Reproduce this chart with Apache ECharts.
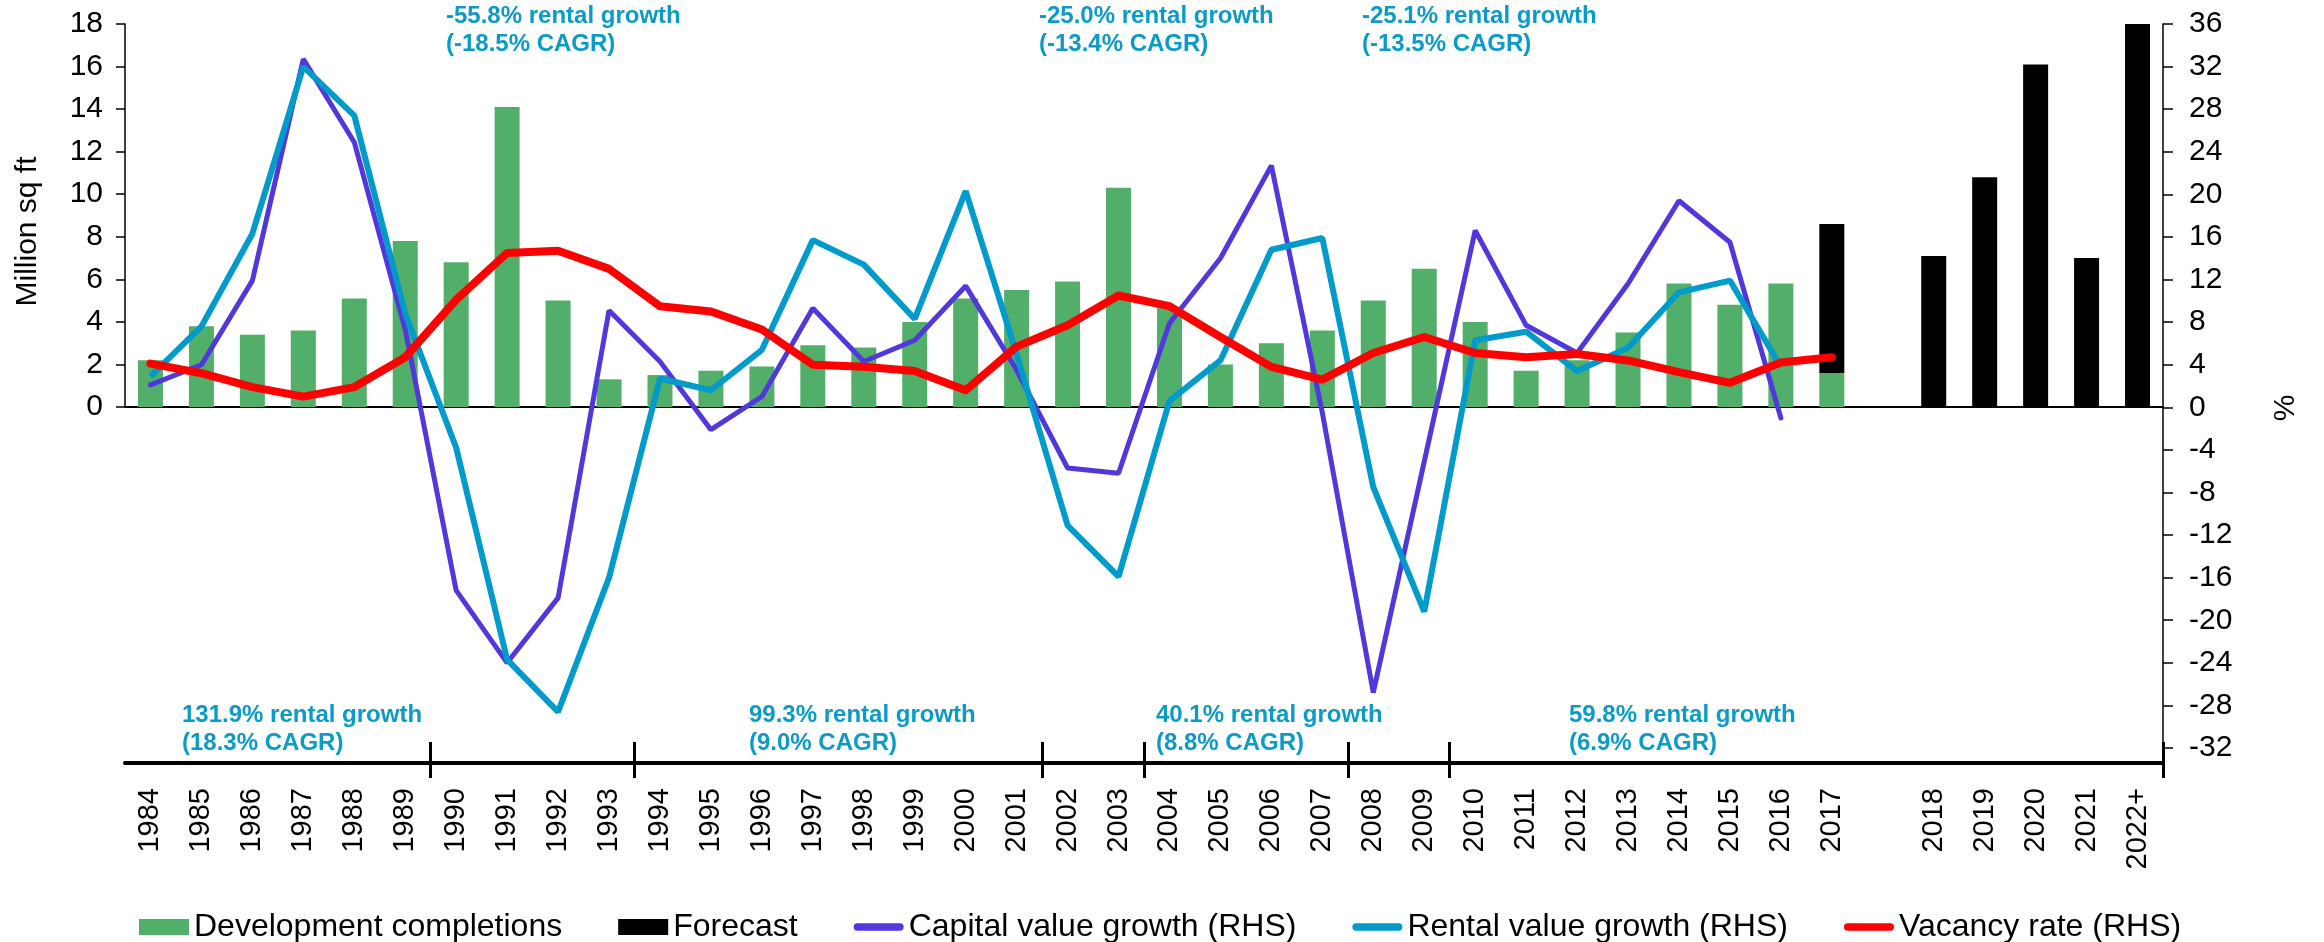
<!DOCTYPE html>
<html>
<head>
<meta charset="utf-8">
<script src="https://cdn.jsdelivr.net/npm/echarts@6/dist/echarts.min.js"></script>
<style>
  html, body { margin: 0; padding: 0; background: #fff; }
  #chartId { width: 2324px; height: 942px; }
</style>
</head>
<body>
<div id="chartId"></div>
<script>
// years on the x axis, one empty slot before the forecast years
const years = ['1984', '1985', '1986', '1987', '1988', '1989', '1990', '1991', '1992', '1993',
  '1994', '1995', '1996', '1997', '1998', '1999', '2000', '2001', '2002', '2003',
  '2004', '2005', '2006', '2007', '2008', '2009', '2010', '2011', '2012', '2013',
  '2014', '2015', '2016', '2017', '', '2018', '2019', '2020', '2021', '2022+']

// million sq ft
const completions = [2.2, 3.8, 3.4, 3.6, 5.1, 7.8, 6.8, 14.1, 5.0, 1.3,
  1.5, 1.7, 1.9, 2.9, 2.8, 4.0, 5.1, 5.5, 5.9, 10.3,
  4.7, 2.0, 3.0, 3.6, 5.0, 6.5, 4.0, 1.7, 2.2, 3.5,
  5.8, 4.8, 5.8, 1.6, '-', '-', '-', '-', '-', '-']
const forecast = ['-', '-', '-', '-', '-', '-', '-', '-', '-', '-',
  '-', '-', '-', '-', '-', '-', '-', '-', '-', '-',
  '-', '-', '-', '-', '-', '-', '-', '-', '-', '-',
  '-', '-', '-', 7.0, '-', 7.1, 10.8, 16.1, 7.0, 18.0]

// % (RHS)
const capitalGrowth = [2.1, 4.0, 11.9, 32.7, 24.9, 7.3, -17.2, -24.0, -17.9, 9.1,
  4.3, -2.1, 1.0, 9.3, 4.3, 6.3, 11.4, 3.5, -5.7, -6.2,
  7.9, 14.0, 22.7, -0.5, -26.8, -5.1, 16.6, 7.7, 5.1, 11.6,
  19.4, 15.5, -1.0]
const rentalGrowth = [2.9, 7.6, 16.3, 32.0, 27.4, 8.8, -3.8, -23.7, -28.6, -16.0,
  2.7, 1.6, 5.4, 15.7, 13.4, 8.3, 20.3, 5.0, -11.1, -15.9,
  0.6, 4.4, 14.8, 15.9, -7.5, -19.2, 6.3, 7.1, 3.4, 5.6,
  10.8, 11.9, 3.8]
const vacancyRate = [4.1, 3.2, 1.9, 1.0, 1.9, 4.7, 10.1, 14.5, 14.7, 13.0,
  9.5, 9.0, 7.3, 4.0, 3.8, 3.4, 1.6, 5.7, 7.7, 10.5,
  9.5, 6.6, 3.8, 2.6, 5.1, 6.6, 5.1, 4.7, 5.0, 4.4,
  3.3, 2.3, 4.2, 4.7]

// first year of each rental cycle, marked on the bottom line
const periodStarts = ['1990', '1994', '2002', '2004', '2008', '2010']

const topNotes = [
  { x: 446, text: '-55.8% rental growth\n(-18.5% CAGR)' },
  { x: 1039, text: '-25.0% rental growth\n(-13.4% CAGR)' },
  { x: 1362, text: '-25.1% rental growth\n(-13.5% CAGR)' }
]
const bottomNotes = [
  { x: 182, text: '131.9% rental growth\n(18.3% CAGR)' },
  { x: 749, text: '99.3% rental growth\n(9.0% CAGR)' },
  { x: 1156, text: '40.1% rental growth\n(8.8% CAGR)' },
  { x: 1569, text: '59.8% rental growth\n(6.9% CAGR)' }
]

const FONT = 'Liberation Sans, Arial, sans-serif'
const GREEN = '#52AF69'
const PURPLE = '#5038DC'
const CYAN = '#009BCB'
const RED = '#FF0000'
const NOTE_COLOR = '#0A9BC9'

const lineIcon = 'path://M4,0 L51,0 A4,4 0 0 1 51,8 L4,8 A4,4 0 0 1 4,0 Z'

const chart = echarts.init(document.getElementById('chartId'))

const noteText = (n, top) => ({
  type: 'text',
  x: n.x,
  y: top,
  style: {
    text: n.text,
    font: 'bold 24px ' + FONT,
    fill: NOTE_COLOR,
    lineHeight: 28
  }
})

const periodTick = (idx) => periodStarts.indexOf(years[idx]) >= 0

chart.setOption({
  animation: false,
  textStyle: { fontFamily: FONT },
  grid: [
    { left: 125, right: 161, top: 24, bottom: 194 },
    { left: 125, right: 161, top: 24, bottom: 535 }
  ],
  xAxis: [
    {
      type: 'category',
      gridIndex: 0,
      data: years,
      axisLine: { show: false },
      axisTick: { show: false },
      axisLabel: { rotate: 90, margin: 40, fontSize: 29, color: '#000', interval: 0 }
    },
    {
      type: 'category',
      gridIndex: 1,
      data: years,
      axisLine: { lineStyle: { color: '#000', width: 2 } },
      axisTick: { show: false },
      axisLabel: { show: false }
    },
    {
      type: 'category',
      gridIndex: 0,
      data: years,
      position: 'bottom',
      offset: 15,
      axisLine: { lineStyle: { color: '#000', width: 4 } },
      axisTick: { show: true, inside: true, length: 21, interval: periodTick, lineStyle: { color: '#000', width: 3 } },
      axisLabel: { show: false }
    },
    {
      type: 'category',
      gridIndex: 0,
      data: years,
      position: 'bottom',
      offset: 15,
      axisLine: { show: false },
      axisTick: { show: true, length: 15, interval: periodTick, lineStyle: { color: '#000', width: 3 } },
      axisLabel: { show: false }
    }
  ],
  yAxis: [
    {
      type: 'value',
      gridIndex: 0,
      position: 'right',
      min: -32,
      max: 36,
      interval: 4,
      name: '%',
      nameLocation: 'middle',
      nameGap: 108,
      nameTextStyle: { fontSize: 30, color: '#000', padding: [0, 44, 0, 0] },
      splitLine: { show: false },
      axisLine: { show: true, lineStyle: { color: '#000', width: 1.5 } },
      axisTick: { show: true, length: 10, lineStyle: { color: '#000', width: 1.5 } },
      axisLabel: { fontSize: 30, color: '#000', margin: 26 }
    },
    {
      type: 'value',
      gridIndex: 1,
      position: 'left',
      min: 0,
      max: 18,
      interval: 2,
      name: 'Million sq ft',
      nameLocation: 'middle',
      nameGap: 82,
      nameTextStyle: { fontSize: 30, color: '#000', padding: [0, 32, 0, 0] },
      splitLine: { show: false },
      axisLine: { show: true, lineStyle: { color: '#000', width: 1.5 } },
      axisTick: { show: true, length: 9, lineStyle: { color: '#000', width: 1.5 } },
      axisLabel: { fontSize: 30, color: '#000', margin: 22 }
    }
  ],
  legend: {
    left: 134,
    top: 906,
    itemWidth: 50,
    itemHeight: 16,
    itemGap: 56,
    textStyle: { fontSize: 32, color: '#000' },
    data: [
      { name: 'Development completions', icon: 'rect' },
      { name: 'Forecast', icon: 'rect' },
      { name: 'Capital value growth (RHS)', icon: lineIcon },
      { name: 'Rental value growth (RHS)', icon: lineIcon },
      { name: 'Vacancy rate (RHS)', icon: lineIcon }
    ]
  },
  graphic: [
    ...topNotes.map(n => noteText(n, 2)),
    ...bottomNotes.map(n => noteText(n, 701))
  ],
  series: [
    {
      name: 'Development completions',
      type: 'bar',
      xAxisIndex: 1,
      yAxisIndex: 1,
      stack: 'supply',
      barWidth: 25,
      itemStyle: { color: GREEN },
      data: completions
    },
    {
      name: 'Forecast',
      type: 'bar',
      xAxisIndex: 1,
      yAxisIndex: 1,
      stack: 'supply',
      barWidth: 25,
      itemStyle: { color: '#000' },
      data: forecast
    },
    {
      name: 'Capital value growth (RHS)',
      type: 'line',
      xAxisIndex: 0,
      yAxisIndex: 0,
      showSymbol: false,
      itemStyle: { color: PURPLE },
      lineStyle: { color: PURPLE, width: 5, cap: 'round' },
      data: capitalGrowth
    },
    {
      name: 'Rental value growth (RHS)',
      type: 'line',
      xAxisIndex: 0,
      yAxisIndex: 0,
      showSymbol: false,
      itemStyle: { color: CYAN },
      lineStyle: { color: CYAN, width: 6 },
      data: rentalGrowth
    },
    {
      name: 'Vacancy rate (RHS)',
      type: 'line',
      xAxisIndex: 0,
      yAxisIndex: 0,
      showSymbol: false,
      itemStyle: { color: RED },
      lineStyle: { color: RED, width: 8, join: 'round', cap: 'round' },
      data: vacancyRate
    }
  ]
})
</script>
</body>
</html>
